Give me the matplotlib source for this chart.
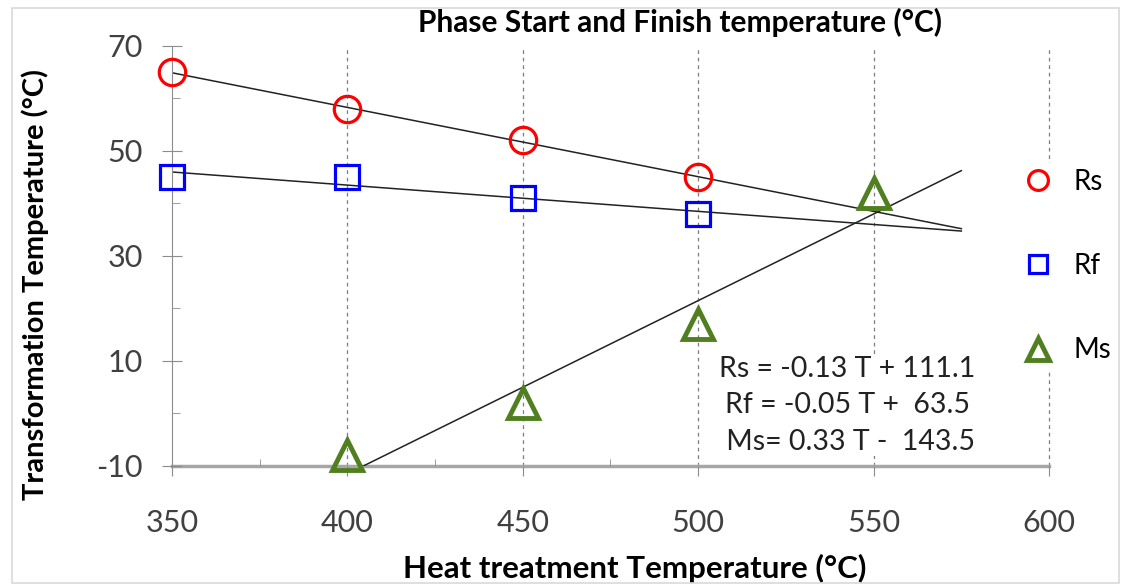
import numpy as np
import matplotlib
matplotlib.use("Agg")
import matplotlib.pyplot as plt
from matplotlib.patches import Rectangle

plt.rcParams["font.family"] = ["Lato", "DejaVu Sans"]
plt.rcParams["axes.unicode_minus"] = False

# data
rs_T = [350, 400, 450, 500]
rs_vals = [65, 58, 52, 45]
rf_T = [350, 400, 450, 500]
rf_vals = [45, 45, 41, 38]
ms_T = [400, 450, 500, 550]
ms_vals = [-8, 2, 17, 42]

x_ticks = [350, 400, 450, 500, 550, 600]
y_ticks = [-10, 10, 30, 50, 70]
fit_end = 575  # trend lines forecast forward to here

eq_lines = ["Rs = -0.13 T + 111.1", "Rf = -0.05 T +  63.5", " Ms= 0.33 T -  143.5"]

fig = plt.figure(figsize=(11.21, 5.88), dpi=100)
ax = fig.add_axes([0.1534, 0.2075, 0.7824, 0.7143])

# chart border
fig.patches.append(Rectangle((0.011, 0.008), 0.987, 0.978, transform=fig.transFigure,
                             fill=False, edgecolor="#d9d9d9", linewidth=1.2))

# vertical dashed grid
for t in x_ticks[1:]:
    ax.axvline(t, color="#7f7f7f", linestyle=(0, (3, 3)), linewidth=0.9, zorder=0, clip_on=False)

# linear trend lines (least squares, like excel)
for xs, ys in [(rs_T, rs_vals), (rf_T, rf_vals), (ms_T, ms_vals)]:
    m, b = np.polyfit(xs, ys, 1)
    tt = np.linspace(xs[0], fit_end, 60)
    ax.plot(tt, m * tt + b, color="#222222", linewidth=1.1, zorder=2)

ms = 19
mew = 2.3
ax.plot(rs_T, rs_vals, linestyle="none", marker="o", markersize=ms, markerfacecolor="none",
        markeredgecolor="#ff0000", markeredgewidth=mew, label="Rs", zorder=3, clip_on=False)
ax.plot(rf_T, rf_vals, linestyle="none", marker="s", markersize=ms - 2, markerfacecolor="none",
        markeredgecolor="#0000ff", markeredgewidth=mew, label="Rf", zorder=3, clip_on=False)
ax.plot(ms_T, ms_vals, linestyle="none", marker="^", markersize=ms + 2, markerfacecolor="none",
        markeredgecolor="#4f7f1f", markeredgewidth=mew + 1.2, label="Ms", zorder=3, clip_on=False)

ax.set_xlim(350, 600)
ax.set_ylim(-10, 70)
ax.set_xticks(x_ticks)
ax.set_xticks([375, 425, 475], minor=True)
ax.set_yticks(y_ticks)
ax.set_yticks([0, 20, 40, 60], minor=True)

for s in ["top", "right"]:
    ax.spines[s].set_visible(False)
ax.spines["left"].set_color("#8c8c8c")
ax.spines["bottom"].set_color("#a6a6a6")
ax.spines["bottom"].set_linewidth(2.5)
ax.spines["bottom"].set_zorder(1)

ax.tick_params(axis="x", which="major", direction="out", length=7, color="#8c8c8c",
               labelsize=22, labelcolor="#404040", pad=24)
ax.tick_params(axis="x", which="minor", direction="in", length=5, color="#8c8c8c")
ax.tick_params(axis="y", which="major", direction="inout", length=14, color="#8c8c8c",
               labelsize=22, labelcolor="#404040", pad=14)
ax.tick_params(axis="y", which="minor", direction="in", length=6, color="#8c8c8c")

fig.text(680 / 1121, 1 - 22 / 588, "Phase Start and Finish temperature (°C)",
         fontsize=21.5, fontweight="bold", ha="center", va="center")
ax.set_xlabel("Heat treatment Temperature (°C)", fontsize=22.5, fontweight="bold", va="center")
ax.xaxis.set_label_coords(0.528, -0.243)
ax.set_ylabel("Transformation Temperature (°C)", fontsize=21, fontweight="bold", va="center")
ax.yaxis.set_label_coords(-0.156, 0.431)

ax.text(0.77, 0.262, "\n".join(eq_lines), transform=ax.transAxes, ha="center", va="top",
        fontsize=20.5, color="#222222", linespacing=1.5,
        bbox=dict(facecolor="white", edgecolor="none", pad=1))

leg = ax.legend(loc="upper left", bbox_to_anchor=(0.965, 0.721), frameon=True, framealpha=1,
                edgecolor="none", fontsize=20, labelspacing=2.1, handlelength=1.0,
                handletextpad=0.8, borderpad=0.2, borderaxespad=0, markerscale=0.75)
leg.get_frame().set_facecolor("white")

fig.savefig("out.png", dpi=100)
